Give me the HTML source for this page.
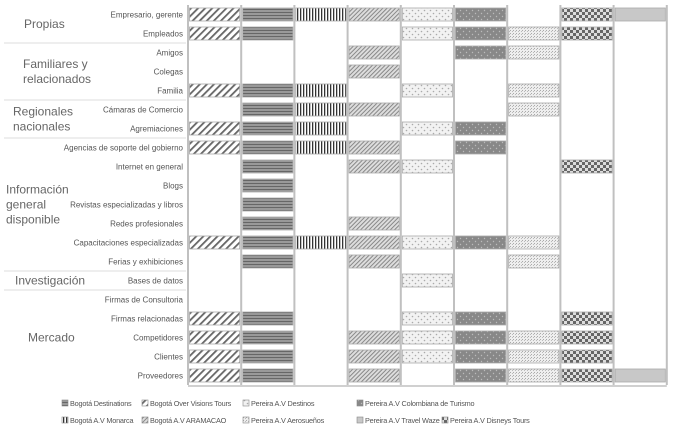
<!DOCTYPE html>
<html><head><meta charset="utf-8"><style>
body{margin:0;background:#fff;width:678px;height:443px;overflow:hidden;font-family:"Liberation Sans",sans-serif}
svg text{font-family:"Liberation Sans",sans-serif}
</style></head><body>
<svg id="chart" width="678" height="443" xmlns="http://www.w3.org/2000/svg">
<defs>
<pattern id="p0" width="5" height="5" patternUnits="userSpaceOnUse" patternTransform="rotate(45)"><rect width="5" height="5" fill="#fff"/><rect width="1.8" height="5" fill="#666"/></pattern>
<pattern id="p1" width="4" height="3" patternUnits="userSpaceOnUse"><rect width="4" height="3" fill="#999"/><rect width="4" height="1" fill="#666"/></pattern>
<pattern id="p2" width="3" height="4" patternUnits="userSpaceOnUse"><rect width="3" height="4" fill="#fff"/><rect width="1.3" height="4" fill="#333"/></pattern>
<pattern id="p3" width="3" height="3" patternUnits="userSpaceOnUse" patternTransform="rotate(45)"><rect width="3" height="3" fill="#ddd"/><rect width="1" height="3" fill="#888"/></pattern>
<pattern id="p4" width="6" height="6" patternUnits="userSpaceOnUse"><rect width="6" height="6" fill="#f2f2f2"/><circle cx="1.5" cy="1.5" r="0.8" fill="#aaa"/><circle cx="4.5" cy="4.5" r="0.8" fill="#aaa"/></pattern>
<pattern id="p5" width="6" height="6" patternUnits="userSpaceOnUse"><rect width="6" height="6" fill="#888"/><circle cx="1.5" cy="1.5" r="0.7" fill="#bbb"/><circle cx="4.5" cy="4.5" r="0.7" fill="#bbb"/></pattern>
<pattern id="p6" width="3" height="3" patternUnits="userSpaceOnUse"><rect width="3" height="3" fill="#eee"/><rect x="0" y="0" width="1" height="1" fill="#aaa"/><rect x="2" y="1" width="1" height="1" fill="#bbb"/></pattern>
<pattern id="p7" width="6" height="6" patternUnits="userSpaceOnUse"><rect width="6" height="6" fill="#ddd"/><rect width="3" height="3" fill="#666"/><rect x="3" y="3" width="3" height="3" fill="#666"/></pattern>
</defs>
<g id="grid"></g><g id="bars"></g><g id="labels"></g><g id="legend"></g>
</svg>
<script>
const categories=["Empresario, gerente","Empleados","Amigos","Colegas","Familia","Cámaras de Comercio","Agremiaciones","Agencias de soporte del gobierno","Internet en general","Blogs","Revistas especializadas y libros","Redes profesionales","Capacitaciones especializadas","Ferias y exhibiciones","Bases de datos","Firmas de Consultoria","Firmas relacionadas","Competidores","Clientes","Proveedores"];
const seriesNames=["Bogotá Over Visions Tours","Bogotá Destinations","Bogotá A.V Monarca","Bogotá A.V ARAMACAO","Pereira A.V Destinos","Pereira A.V  Colombiana de Turismo","Pereira A.V Aerosueños","Pereira A.V Disneys Tours","Pereira A.V Travel Waze"];
const s0=[1,1,0,0,1,0,1,1,0,0,0,0,1,0,0,0,1,1,1,1];
const s1=[1,1,0,0,1,1,1,1,1,1,1,1,1,1,0,0,1,1,1,1];
const s2=[1,0,0,0,1,1,1,1,0,0,0,0,1,0,0,0,0,0,0,0];
const s3=[1,0,1,1,0,1,0,1,1,0,0,1,1,1,0,0,0,1,1,1];
const s4=[1,1,0,0,1,0,1,0,1,0,0,0,1,0,1,0,1,1,1,0];
const s5=[1,1,1,0,0,0,1,1,0,0,0,0,1,0,0,0,1,1,1,1];
const s6=[0,1,1,0,1,1,0,0,0,0,0,0,1,1,0,0,0,1,1,1];
const s7=[1,1,0,0,0,0,0,0,1,0,0,0,0,0,0,0,1,1,1,1];
const s8=[1,0,0,0,0,0,0,0,0,0,0,0,0,0,0,0,0,0,0,1];
const series=[s0,s1,s2,s3,s4,s5,s6,s7,s8];
const groups=[["Propias",0,1],["Familiares y|relacionados",2,4],["Regionales|nacionales",5,6],["Información|general|disponible",7,13],["Investigación",14,14],["Mercado",15,19]];
const fills=["url(#p0)","url(#p1)","url(#p2)","url(#p3)","url(#p4)","url(#p5)","url(#p6)","url(#p7)","#c8c8c8"];
const NS="http://www.w3.org/2000/svg";
const X0=188,CW=53.2,Y0=5,RH=19,BH=13;
const yRow=i=>Y0+i*RH;
const xCol=j=>X0+j*CW;
function mk(tag,attrs,parent){const e=document.createElementNS(NS,tag);for(const k in attrs)e.setAttribute(k,attrs[k]);parent.appendChild(e);return e;}
const grid=document.getElementById('grid'),bars=document.getElementById('bars'),labels=document.getElementById('labels'),legend=document.getElementById('legend');
series.forEach((s,j)=>{s.forEach((v,i)=>{if(!v)return;
 const r=mk('rect',{x:xCol(j)+1.5,y:yRow(i)+(RH-BH)/2,width:(CW-3)*v,height:BH,fill:fills[j],stroke:'#aaa','stroke-width':0.8},bars);
 
 
});});
for(let j=0;j<=series.length;j++){const l=mk('line',{x1:xCol(j),x2:xCol(j),y1:Y0,y2:yRow(categories.length),stroke:'#c0c0c0','stroke-width':2},grid);
 
 }
mk('line',{x1:X0,x2:xCol(series.length),y1:yRow(categories.length)+1,y2:yRow(categories.length)+1,stroke:'#d0d0d0','stroke-width':2},grid);
categories.forEach((c,i)=>{const t=mk('text',{x:183,y:yRow(i)+RH/2+3,'text-anchor':'end','font-size':8,fill:'#555'},labels);t.textContent=c;
 
 });
const gx=[24,23,13,6,15,28];
groups.forEach((g,gi)=>{const [name,a,b]=g;const lines=name.split('|');const cy=(yRow(a)+yRow(b+1))/2;
 lines.forEach((ln,k)=>{const t=mk('text',{x:gx[gi],y:cy+(k-(lines.length-1)/2)*15+4,'font-size':12,fill:'#666'},labels);t.textContent=ln;
  
  });
 if(gi<groups.length-1){const l=mk('line',{x1:4,x2:186,y1:yRow(b+1),y2:yRow(b+1),stroke:'#ddd','stroke-width':1},grid);
  
  }
});
const legPos=[[142,406],[62,406],[62,423],[142,423],[243,406],[357,406],[243,423],[442,423],[357,423]];
series.forEach((s,j)=>{const [lx,ly]=legPos[j];
 const g=mk('g',{},legend);
 
 
 mk('rect',{x:lx,y:ly-6,width:6,height:6,fill:fills[j],stroke:'#888','stroke-width':0.6},g);
 const t=mk('text',{x:lx+8,y:ly,'font-size':7.3,fill:'#555','letter-spacing':'-0.2'},g);t.textContent=seriesNames[j];
});
</script>
</body></html>
